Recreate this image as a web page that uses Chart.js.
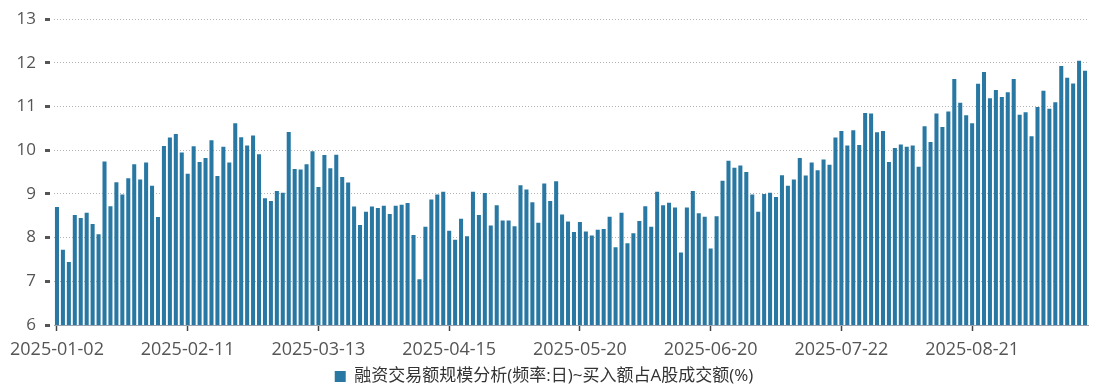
<!DOCTYPE html>
<html>
<head>
<meta charset="utf-8">
<script src="https://cdn.jsdelivr.net/npm/chart.js@4.4.1/dist/chart.umd.min.js"></script>
<style>
    html, body { margin: 0; padding: 0; background: #fff; }
    #wrap { width: 1095px; height: 390px; }
</style>
</head>
<body>
<div id="wrap"><canvas id="myChart"></canvas></div>
<script>
const dateLabels = [
    '2025-01-02','2025-01-03','2025-01-06','2025-01-07','2025-01-08','2025-01-09','2025-01-10','2025-01-13','2025-01-14','2025-01-15','2025-01-16','2025-01-17','2025-01-20','2025-01-21','2025-01-22','2025-01-23','2025-01-24','2025-01-27',
    '2025-02-05','2025-02-06','2025-02-07','2025-02-10','2025-02-11','2025-02-12','2025-02-13','2025-02-14','2025-02-17','2025-02-18','2025-02-19','2025-02-20','2025-02-21','2025-02-24','2025-02-25','2025-02-26','2025-02-27','2025-02-28',
    '2025-03-03','2025-03-04','2025-03-05','2025-03-06','2025-03-07','2025-03-10','2025-03-11','2025-03-12','2025-03-13','2025-03-14','2025-03-17','2025-03-18','2025-03-19','2025-03-20','2025-03-21','2025-03-24','2025-03-25','2025-03-26','2025-03-27','2025-03-28','2025-03-31',
    '2025-04-01','2025-04-02','2025-04-03','2025-04-07','2025-04-08','2025-04-09','2025-04-10','2025-04-11','2025-04-14','2025-04-15','2025-04-16','2025-04-17','2025-04-18','2025-04-21','2025-04-22','2025-04-23','2025-04-24','2025-04-25','2025-04-28','2025-04-29','2025-04-30',
    '2025-05-06','2025-05-07','2025-05-08','2025-05-09','2025-05-12','2025-05-13','2025-05-14','2025-05-15','2025-05-16','2025-05-19','2025-05-20','2025-05-21','2025-05-22','2025-05-23','2025-05-26','2025-05-27','2025-05-28','2025-05-29','2025-05-30',
    '2025-06-03','2025-06-04','2025-06-05','2025-06-06','2025-06-09','2025-06-10','2025-06-11','2025-06-12','2025-06-13','2025-06-16','2025-06-17','2025-06-18','2025-06-19','2025-06-20','2025-06-23','2025-06-24','2025-06-25','2025-06-26','2025-06-27','2025-06-30',
    '2025-07-01','2025-07-02','2025-07-03','2025-07-04','2025-07-07','2025-07-08','2025-07-09','2025-07-10','2025-07-11','2025-07-14','2025-07-15','2025-07-16','2025-07-17','2025-07-18','2025-07-21','2025-07-22','2025-07-23','2025-07-24','2025-07-25','2025-07-28','2025-07-29','2025-07-30','2025-07-31',
    '2025-08-01','2025-08-04','2025-08-05','2025-08-06','2025-08-07','2025-08-08','2025-08-11','2025-08-12','2025-08-13','2025-08-14','2025-08-15','2025-08-18','2025-08-19','2025-08-20','2025-08-21','2025-08-22','2025-08-25','2025-08-26','2025-08-27','2025-08-28','2025-08-29',
    '2025-09-01','2025-09-02','2025-09-03','2025-09-04','2025-09-05','2025-09-08','2025-09-09','2025-09-10','2025-09-11','2025-09-12','2025-09-15','2025-09-16','2025-09-17'
];

const buyRatio = [
    8.70, 7.72, 7.44, 8.52, 8.45, 8.57, 8.31, 8.08, 9.74, 8.72, 9.27, 8.99, 9.36, 9.68, 9.33, 9.72, 9.19, 8.47, 10.10, 10.29, 10.37, 9.95, 9.46, 10.09, 9.73,
    9.82, 10.23, 9.41, 10.08, 9.72, 10.62, 10.30, 10.11, 10.34, 9.91, 8.90, 8.84, 9.07, 9.03, 10.42, 9.57, 9.56, 9.68, 9.98, 9.16, 9.89, 9.59, 9.90, 9.39,
    9.26, 8.71, 8.29, 8.59, 8.71, 8.68, 8.73, 8.54, 8.73, 8.75, 8.79, 8.06, 7.05, 8.25, 8.87, 8.99, 9.05, 8.16, 7.95, 8.43, 8.03, 9.05, 8.52, 9.02, 8.28,
    8.74, 8.39, 8.39, 8.26, 9.20, 9.10, 8.81, 8.34, 9.24, 8.84, 9.29, 8.53, 8.37, 8.13, 8.36, 8.14, 8.05, 8.18, 8.20, 8.48, 7.78, 8.57, 7.87, 8.10, 8.38,
    8.72, 8.25, 9.05, 8.74, 8.80, 8.69, 7.66, 8.69, 9.07, 8.56, 8.48, 7.75, 8.49, 9.30, 9.76, 9.60, 9.65, 9.50, 8.99, 8.59, 9.00, 9.03, 8.93, 9.43,
    9.19, 9.33, 9.82, 9.42, 9.72, 9.54, 9.79, 9.67, 10.29, 10.44, 10.11, 10.46, 10.12, 10.85, 10.84, 10.41, 10.44, 9.73, 10.05, 10.13, 10.08, 10.11, 9.62, 10.55, 10.19,
    10.84, 10.53, 10.89, 11.63, 11.09, 10.80, 10.62, 11.52, 11.79, 11.19, 11.38, 11.22, 11.33, 11.63, 10.81, 10.87, 10.32, 10.99, 11.36, 10.95, 11.10, 11.93, 11.66, 11.53, 12.05, 11.82
];

const seriesName = '融资交易额规模分析(频率:日)~买入额占A股成交额(%)';
const labelEvery = 22;

const fontFamily = '"Segoe UI", "Open Sans", "Noto Sans CJK SC", sans-serif';

function showChart() {
    const ctx = document.getElementById('myChart');

    const data = {
        labels: dateLabels,
        datasets: [{
            label: seriesName,
            data: buyRatio,
            backgroundColor: '#2878a3',
            borderWidth: 0,
            categoryPercentage: 1,
            barPercentage: 0.68
        }]
    };

    const options = {
        responsive: true,
        maintainAspectRatio: false,
        animation: false,
        layout: {
            padding: { left: 0, right: 7, top: 10, bottom: -5 }
        },
        plugins: {
            legend: {
                position: 'bottom',
                labels: {
                    boxWidth: 11,
                    boxHeight: 11,
                    color: '#333',
                    padding: 2,
                    font: { family: fontFamily, size: 17 }
                }
            },
            tooltip: { enabled: false }
        },
        scales: {
            x: {
                offset: true,
                afterFit: (scale) => { scale.height = 41; },
                grid: {
                    offset: false,
                    drawOnChartArea: false,
                    tickLength: 6,
                    tickWidth: 1.5,
                    tickColor: (c) => (c.index % labelEvery === 0 ? '#444' : 'rgba(0,0,0,0)')
                },
                border: { display: true, color: '#9aa3ad', width: 1 },
                ticks: {
                    autoSkip: false,
                    maxRotation: 0,
                    padding: 8,
                    color: '#555',
                    font: { family: fontFamily, size: 18 },
                    callback: function (value, index) {
                        return index % labelEvery === 0 ? this.getLabelForValue(value) : '';
                    }
                }
            },
            y: {
                min: 6,
                max: 13,
                afterFit: (scale) => { scale.width = 54; },
                grid: {
                    color: '#b5b5b5',
                    lineWidth: 1,
                    tickLength: 9,
                    tickWidth: 3,
                    tickColor: '#555',
                    tickBorderDash: [5, 10]
                },
                border: { display: false, dash: [1, 2] },
                ticks: {
                    stepSize: 1,
                    padding: 9,
                    color: '#555',
                    font: { family: fontFamily, size: 17 }
                }
            }
        }
    };

    new Chart(ctx, {
        type: 'bar',
        data: data,
        options: options
    });
}

showChart();
</script>
</body>
</html>
